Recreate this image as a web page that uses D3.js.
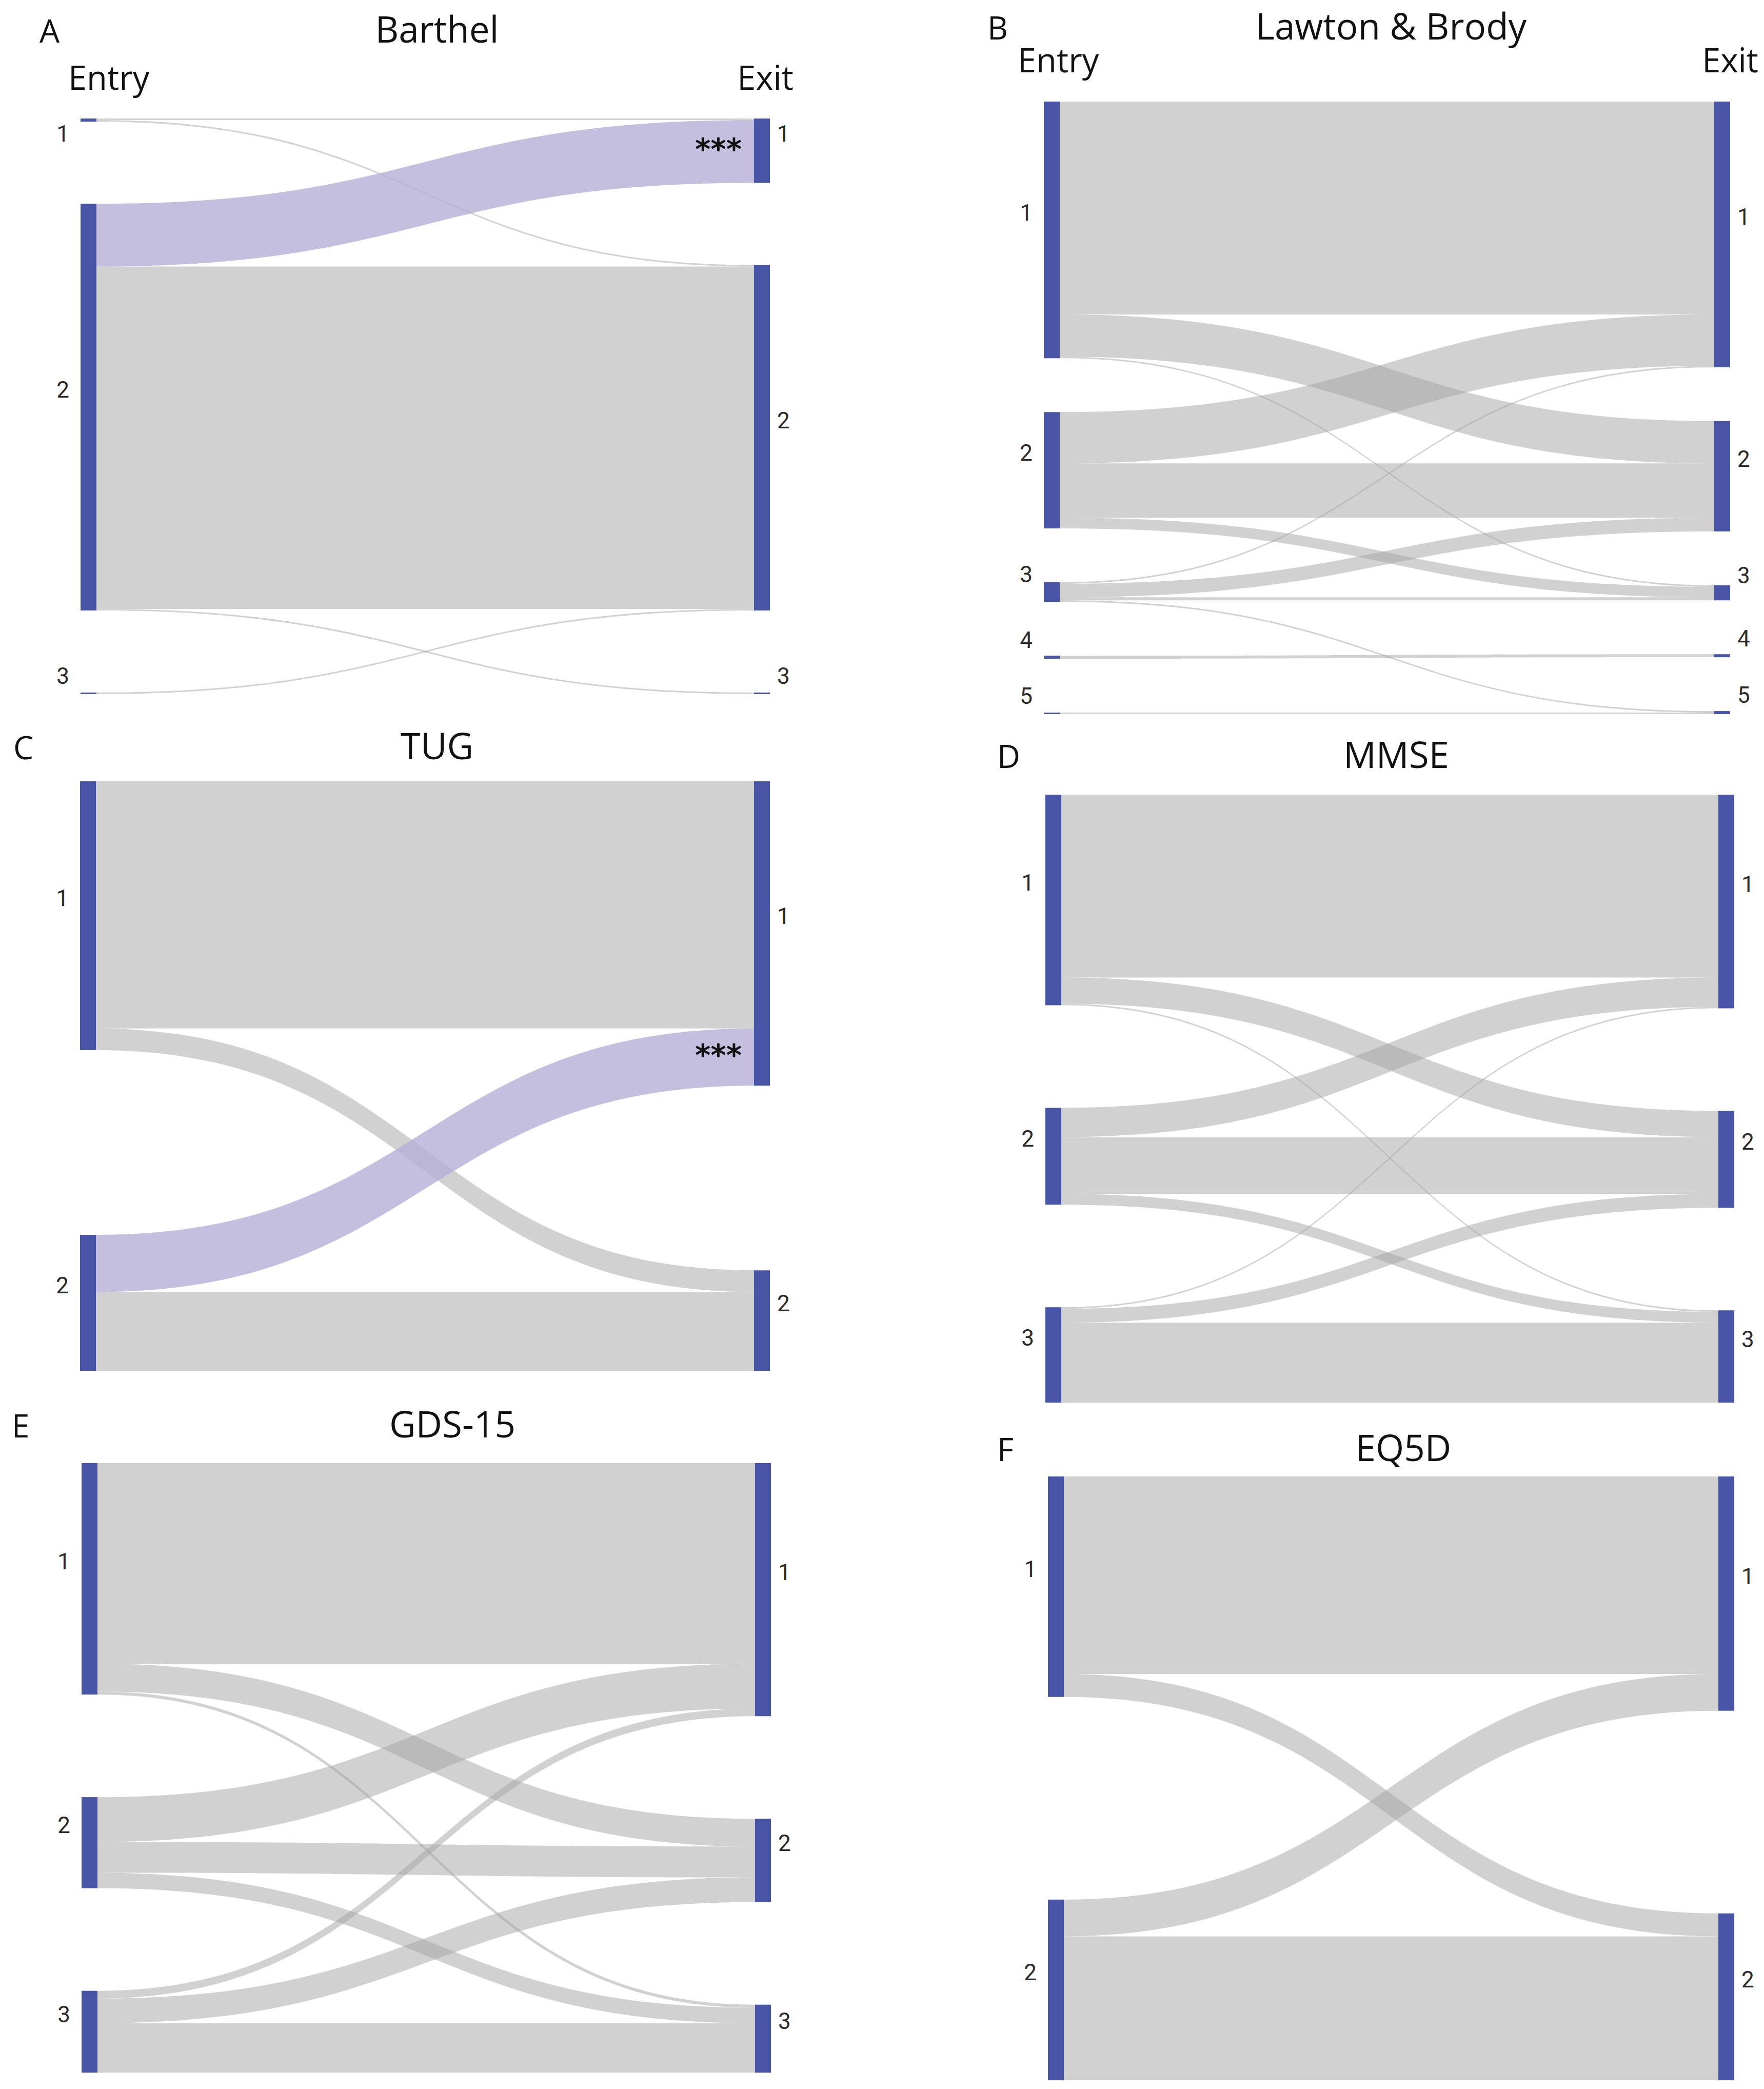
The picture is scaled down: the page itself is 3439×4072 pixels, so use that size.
<!DOCTYPE html>
<html>
<head>
<meta charset="utf-8">
<script src="https://cdn.jsdelivr.net/npm/d3@7"></script>
<style>
  body { margin: 0; background: #fff; }
  text { font-family: "Open Sans", "Noto Sans", sans-serif; }
</style>
</head>
<body>
<div id="chart"></div>
<script>
// ---- data: [entry level, exit level, patients] ----
const barthelLinks = [[1, 1, 1], [1, 2, 1], [2, 1, 40], [2, 2, 218], [2, 3, 1], [3, 2, 1]];
const lawtonLinks = [
  [1, 1, 141], [1, 2, 28], [1, 3, 1],
  [2, 1, 34], [2, 2, 36], [2, 3, 7],
  [3, 1, 1], [3, 2, 9], [3, 3, 2], [3, 5, 1],
  [4, 4, 2], [5, 5, 1]
];
const tugLinks = [[1, 1, 160], [1, 2, 14], [2, 1, 37], [2, 2, 51]];
const mmseLinks = [
  [1, 1, 119], [1, 2, 17], [1, 3, 1],
  [2, 1, 19], [2, 2, 37], [2, 3, 7],
  [3, 1, 1], [3, 2, 9], [3, 3, 52]
];
const gdsLinks = [
  [1, 1, 130], [1, 2, 18], [1, 3, 2],
  [2, 1, 29], [2, 2, 20], [2, 3, 10],
  [3, 1, 5], [3, 2, 16], [3, 3, 32]
];
const eq5dLinks = [[1, 1, 129], [1, 2, 15], [2, 1, 24], [2, 2, 94]];

const levels2 = ["1", "2"];
const levels3 = ["1", "2", "3"];
const levels5 = ["1", "2", "3", "4", "5"];

// significant flows marked with ***
const barthelSig = [2, 1];
const tugSig = [2, 1];

const panelLetters = ["A", "B", "C", "D", "E", "F"];
const panelTitles = ["Barthel", "Lawton & Brody", "TUG", "MMSE", "GDS-15", "EQ5D"];

// ---- layout ----
const W = 3439, H = 4072;
const nodeW = 31;
const nodeColor = "#4854a6";
const linkColor = "#a3a3a3";
const sigColor = "#b5aed7";

const panels = [
  { links: barthelLinks, levels: levels3, sig: barthelSig, xl: 157, xr: 1470, y0: 231, y1: 1353, pad: 160,
    letterX: 77, titleX: 852, titleY: 83, entryX: 133, exitX: 1547, headY: 175 },
  { links: lawtonLinks, levels: levels5, sig: null, xl: 2035, xr: 3342, y0: 198, y1: 1392, pad: 105,
    letterX: 1925, titleX: 2712, titleY: 77, entryX: 1984, exitX: 3428, headY: 141 },
  { links: tugLinks, levels: levels2, sig: tugSig, xl: 156, xr: 1470, y0: 1523, y1: 2672, pad: 360,
    letterX: 26, titleX: 852, titleY: 1480 },
  { links: mmseLinks, levels: levels3, sig: null, xl: 2038, xr: 3350, y0: 1549, y1: 2734, pad: 200,
    letterX: 1944, titleX: 2722, titleY: 1497 },
  { links: gdsLinks, levels: levels3, sig: null, xl: 159, xr: 1472, y0: 2852, y1: 4040, pad: 200,
    letterX: 23, titleX: 882, titleY: 2802 },
  { links: eq5dLinks, levels: levels2, sig: null, xl: 2043, xr: 3350, y0: 2878, y1: 4055, pad: 395,
    letterX: 1944, titleX: 2736, titleY: 2848 }
];

const svg = d3.select("#chart")
  .append("svg")
  .attr("width", W)
  .attr("height", H)
  .style("background", "#fff");

panels.forEach((cfg, i) => drawPanel(cfg, panelLetters[i], panelTitles[i]));

function drawPanel(cfg, letter, title) {
  const g = svg.append("g");
  const n = cfg.levels.length;

  const links = cfg.links.map(([s, t, v]) => ({
    source: s - 1,
    target: t - 1,
    value: v,
    sig: cfg.sig && cfg.sig[0] === s && cfg.sig[1] === t
  }));

  const outTot = cfg.levels.map((_, k) => d3.sum(links.filter((l) => l.source === k), (l) => l.value));
  const inTot = cfg.levels.map((_, k) => d3.sum(links.filter((l) => l.target === k), (l) => l.value));
  const total = Math.max(d3.sum(outTot), d3.sum(inTot));

  // value -> band height, column -> x
  const h = d3.scaleLinear().domain([0, total]).range([0, cfg.y1 - cfg.y0 - cfg.pad * (n - 1)]);
  const x = d3.scaleLinear().domain([0, 1]).range([cfg.xl, cfg.xr]);

  function stack(tots) {
    let y = cfg.y0;
    return tots.map((t) => {
      const node = { y0: y, y1: y + h(t) };
      y = node.y1 + cfg.pad;
      return node;
    });
  }
  const leftNodes = stack(outTot);
  const rightNodes = stack(inTot);

  // link ends, ordered by the other side's level
  leftNodes.forEach((node, k) => {
    let y = node.y0;
    links.filter((l) => l.source === k).sort((a, b) => a.target - b.target).forEach((l) => {
      l.sy0 = y; y += h(l.value); l.sy1 = y;
    });
  });
  rightNodes.forEach((node, k) => {
    let y = node.y0;
    links.filter((l) => l.target === k).sort((a, b) => a.source - b.source).forEach((l) => {
      l.ty0 = y; y += h(l.value); l.ty1 = y;
    });
  });

  const xa = x(0) + nodeW, xb = x(1), xm = (xa + xb) / 2;
  const band = (l) =>
    `M${xa},${l.sy0}C${xm},${l.sy0} ${xm},${l.ty0} ${xb},${l.ty0}` +
    `L${xb},${l.ty1}C${xm},${l.ty1} ${xm},${l.sy1} ${xa},${l.sy1}Z`;

  g.selectAll(".link")
    .data(links.filter((l) => !l.sig))
    .enter()
    .append("path")
    .attr("class", "link")
    .attr("d", band)
    .attr("fill", linkColor)
    .attr("fill-opacity", 0.5);

  g.selectAll(".link-sig")
    .data(links.filter((l) => l.sig))
    .enter()
    .append("path")
    .attr("class", "link-sig")
    .attr("d", band)
    .attr("fill", sigColor)
    .attr("fill-opacity", 0.8);

  // nodes
  [[leftNodes, 0], [rightNodes, 1]].forEach(([nodes, col]) => {
    g.selectAll(`.node-${col}`)
      .data(nodes)
      .enter()
      .append("rect")
      .attr("class", `node-${col}`)
      .attr("x", x(col))
      .attr("y", (d) => d.y0)
      .attr("width", nodeW)
      .attr("height", (d) => Math.max(d.y1 - d.y0, 2))
      .attr("fill", nodeColor);

    g.selectAll(`.label-${col}`)
      .data(nodes)
      .enter()
      .append("text")
      .attr("class", `label-${col}`)
      .attr("x", col === 0 ? x(0) - 22 : x(1) + nodeW + 14)
      .attr("y", (d) => Math.max((d.y0 + d.y1) / 2 - 34, cfg.y0 + 30))
      .attr("dy", "0.35em")
      .attr("text-anchor", col === 0 ? "end" : "start")
      .style("font-family", "Roboto, sans-serif")
      .style("font-size", "44px")
      .style("fill", "#2a2a2a")
      .text((d, k) => cfg.levels[k]);
  });

  // significance marker at the exit end of the highlighted flow
  links.filter((l) => l.sig).forEach((l) => {
    g.append("text")
      .attr("x", x(1) - 24)
      .attr("y", (l.ty0 + l.ty1) / 2 + 16)
      .attr("text-anchor", "end")
      .style("font-family", "DejaVu Sans, sans-serif")
      .style("font-weight", "bold")
      .style("font-size", "58px")
      .style("fill", "#111")
      .text("***");
  });

  // titles
  g.append("text")
    .attr("x", cfg.letterX)
    .attr("y", cfg.titleY)
    .style("font-size", "62px")
    .style("fill", "#111")
    .text(letter);

  g.append("text")
    .attr("x", cfg.titleX)
    .attr("y", cfg.titleY)
    .attr("text-anchor", "middle")
    .style("font-size", "71px")
    .style("fill", "#111")
    .text(title);

  if (cfg.entryX !== undefined) {
    g.append("text")
      .attr("x", cfg.entryX)
      .attr("y", cfg.headY)
      .style("font-size", "65px")
      .style("fill", "#111")
      .text("Entry");
    g.append("text")
      .attr("x", cfg.exitX)
      .attr("y", cfg.headY)
      .attr("text-anchor", "end")
      .style("font-size", "65px")
      .style("fill", "#111")
      .text("Exit");
  }
}
</script>
</body>
</html>
